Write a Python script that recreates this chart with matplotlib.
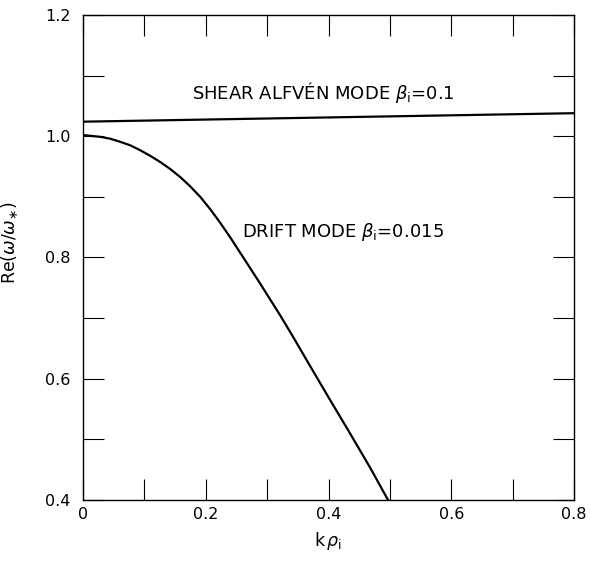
import numpy as np
import matplotlib.pyplot as plt
from matplotlib.ticker import MultipleLocator

# Curves
k_alfven = [0.0, 0.8]
w_alfven = [1.024, 1.038]

k_drift = [0.0, 0.028, 0.044, 0.06, 0.077, 0.093, 0.109, 0.125, 0.142, 0.158,
           0.174, 0.191, 0.207, 0.223, 0.240, 0.256, 0.272, 0.288, 0.321, 0.340,
           0.370, 0.402, 0.435, 0.468, 0.497]
w_drift = [1.002, 0.999, 0.996, 0.991, 0.985, 0.977, 0.968, 0.958, 0.946, 0.933,
           0.918, 0.900, 0.880, 0.858, 0.833, 0.808, 0.783, 0.758, 0.705, 0.673,
           0.621, 0.566, 0.510, 0.453, 0.400]

x_ticks = [0, 0.2, 0.4, 0.6, 0.8]
x_labels = ['0', '0.2', '0.4', '0.6', '0.8']
y_ticks = [0.4, 0.6, 0.8, 1.0, 1.2]
y_labels = ['0.4', '0.6', '0.8', '1.0', '1.2']

plt.rcParams['font.family'] = ['DejaVu Sans']
plt.rcParams['mathtext.fontset'] = 'dejavusans'

fig = plt.figure(figsize=(5.9, 5.63), dpi=100)
ax = fig.add_axes([0.1407, 0.1119, 0.8322, 0.8615])

ax.plot(k_alfven, w_alfven, color='black', lw=1.6)
ax.plot(k_drift, w_drift, color='black', lw=1.6, solid_joinstyle='round')

ax.set_xlim(0, 0.8)
ax.set_ylim(0.4, 1.2)
ax.set_xticks(x_ticks)
ax.set_xticklabels(x_labels)
ax.set_yticks(y_ticks)
ax.set_yticklabels(y_labels)
ax.xaxis.set_minor_locator(MultipleLocator(0.1))
ax.yaxis.set_minor_locator(MultipleLocator(0.1))
ax.tick_params(which='both', direction='in', top=True, right=True,
               length=15, width=0.8, labelsize=11.5)
ax.tick_params(axis='x', pad=5)
ax.tick_params(axis='y', pad=9)
for s in ax.spines.values():
    s.set_linewidth(1.0)

ax.set_xlabel(r'k$\,\rho_{\rm i}$', fontsize=12.5, labelpad=6)
ax.set_ylabel(r'Re($\omega/\omega_{\ast}$)', fontsize=12.5)
ax.yaxis.set_label_coords(-0.128, 0.53)

ax.text(0.177, 1.062, r'SHEAR ALFVÉN MODE $\beta_{\rm i}$=0.1', fontsize=13)
ax.text(0.259, 0.834, r'DRIFT MODE $\beta_{\rm i}$=0.015', fontsize=13)

fig.savefig('out.png', dpi=100)
